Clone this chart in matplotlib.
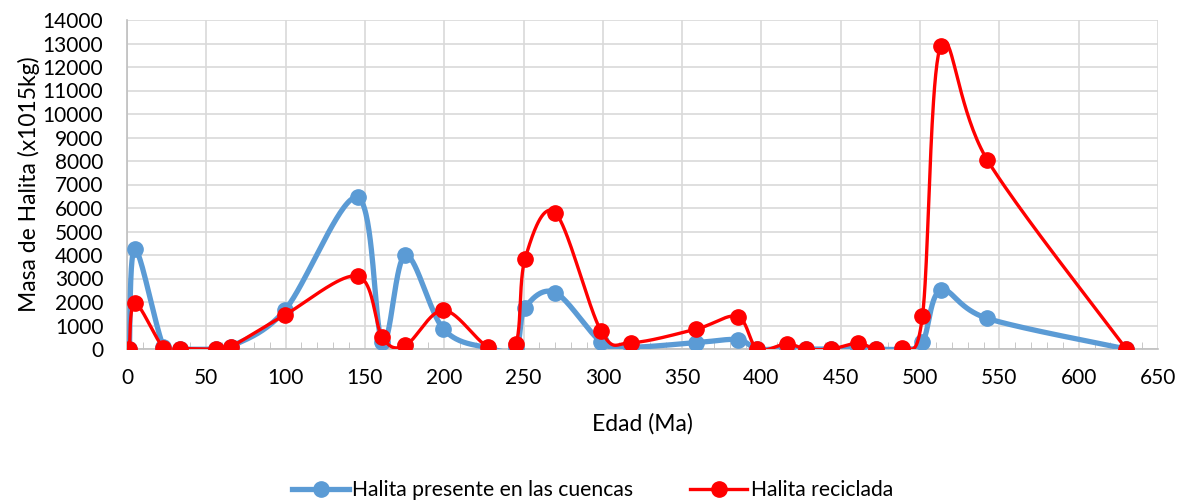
import numpy as np
import matplotlib
matplotlib.use("Agg")
import matplotlib.pyplot as plt
from matplotlib.lines import Line2D

edad = [1.5, 5, 23, 33.5, 56, 65.5, 99.5, 145.5, 161, 175.5, 199.5, 227.5, 245, 251,
        270, 299, 318, 359, 385, 397.5, 416, 428, 444, 461, 472, 488.5, 501.5, 513,
        542.5, 630]
halita_presente = [0, 4250, 100, 0, 0, 100, 1650, 6450, 300, 4000, 850, 50, 30, 1750,
                   2400, 300, 80, 270, 400, 0, 30, 0, 0, 30, 0, 0, 280, 2500,
                   1300, 0]
halita_reciclada = [0, 1950, 50, 20, 0, 100, 1450, 3100, 500, 150, 1650, 100, 200, 3850,
                    5800, 750, 270, 850, 1380, 0, 220, 0, 0, 250, 0, 30, 1400, 12900,
                    8030, 0]
serie_labels = ["Halita presente en las cuencas", "Halita reciclada"]


def excel_smooth(x, y, n=40):
    x = np.asarray(x, float)
    y = np.asarray(y, float)
    P = np.column_stack([x, y])
    out = []
    m = len(P)
    for i in range(m - 1):
        p0 = P[i - 1] if i > 0 else P[i]
        p1 = P[i]
        p2 = P[i + 1]
        p3 = P[i + 2] if i + 2 < m else P[i + 1]
        c1 = p1 + (p2 - p0) / 6.0
        c2 = p2 - (p3 - p1) / 6.0
        t = np.linspace(0, 1, n)[:, None]
        seg = ((1 - t) ** 3) * p1 + 3 * ((1 - t) ** 2) * t * c1 + 3 * (1 - t) * t ** 2 * c2 + t ** 3 * p2
        if i > 0:
            seg = seg[1:]
        out.append(seg)
    out = np.vstack(out)
    return out[:, 0], out[:, 1]


plt.rcParams['font.family'] = ['Lato', 'DejaVu Sans']

fig = plt.figure(figsize=(11.85, 5.0), dpi=100)
ax = fig.add_axes([127 / 1185, 1 - 349 / 500, (1158 - 127) / 1185, (349 - 20) / 500])

blue = '#5B9BD5'
red = '#FF0000'

sx, sy = excel_smooth(edad, halita_presente)
ax.plot(sx, sy, color=blue, lw=3.8, solid_capstyle='round', zorder=3)
ax.plot(edad, halita_presente, 'o', color=blue, ms=11, zorder=4)

sx, sy = excel_smooth(edad, halita_reciclada)
ax.plot(sx, sy, color=red, lw=2.4, solid_capstyle='round', zorder=5)
ax.plot(edad, halita_reciclada, 'o', color=red, ms=11, zorder=6)

ax.set_xlim(0, 650)
ax.set_ylim(0, 14000)
ax.set_xticks(np.arange(0, 651, 50))
ax.set_yticks(np.arange(0, 14001, 1000))
ax.set_xticks(np.arange(0, 651, 10), minor=True)
ax.grid(True, which='major', color='#d9d9d9', lw=1.2, zorder=0)
ax.set_axisbelow(True)
for s in ['top', 'right']:
    ax.spines[s].set_visible(False)
ax.spines['left'].set_color('#bfbfbf')
ax.spines['bottom'].set_color('#bfbfbf')
ax.spines['left'].set_linewidth(1.2)
ax.spines['bottom'].set_linewidth(1.2)
ax.tick_params(axis='x', which='minor', direction='in', length=5, color='#bfbfbf')
ax.tick_params(axis='x', which='major', length=0, pad=14, labelsize=15)
ax.tick_params(axis='y', which='major', length=0, pad=17, labelsize=15)

ax.set_xlabel('Edad (Ma)', fontsize=16.5, labelpad=18)
ax.set_ylabel('Masa de Halita (x1015kg)', fontsize=16.5, labelpad=2)

handles = [Line2D([0], [0], color=blue, lw=3.8, marker='o', ms=11),
           Line2D([0], [0], color=red, lw=2.4, marker='o', ms=11)]
fig.legend(handles, serie_labels, loc='center', bbox_to_anchor=(0.5, 1 - 490 / 500),
           ncol=2, frameon=False, fontsize=15.2, handlelength=2.7, handletextpad=0.15,
           columnspacing=2.7)

fig.savefig('out.png', dpi=100)
